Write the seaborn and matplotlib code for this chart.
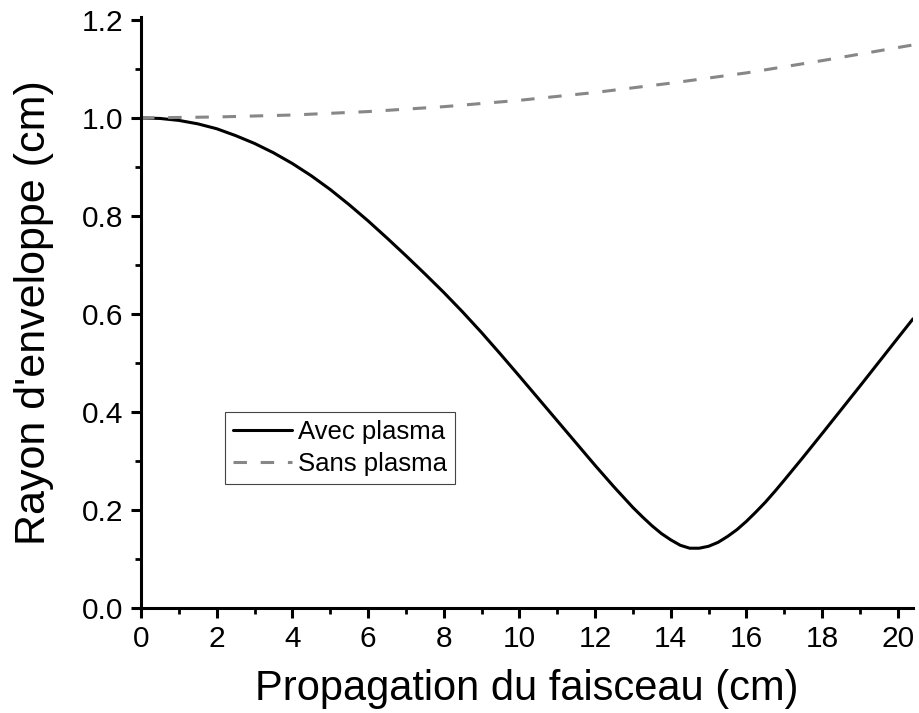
import numpy as np
import pandas as pd
import seaborn as sns
import matplotlib.pyplot as plt
from matplotlib.ticker import MultipleLocator

# valeurs
z_avec = [0, 0.5, 1, 1.5, 2, 2.5, 3, 3.5, 4, 4.5, 5, 5.5, 6, 6.5, 7, 7.5, 8, 8.5,
          9, 9.5, 10, 11, 12, 12.5, 13, 13.25, 13.5, 13.75, 14, 14.25, 14.5, 14.75,
          15, 15.25, 15.5, 15.75, 16, 16.25, 16.5, 16.75, 17, 17.5, 18, 19, 20, 20.4]
r_avec = [1.000, 0.999, 0.995, 0.988, 0.978, 0.964, 0.948, 0.929, 0.907, 0.882,
          0.854, 0.823, 0.790, 0.755, 0.719, 0.682, 0.644, 0.604,
          0.562, 0.518, 0.473, 0.382, 0.291, 0.247, 0.205, 0.186, 0.168, 0.152,
          0.139, 0.128, 0.122, 0.122,
          0.126, 0.134, 0.146, 0.160, 0.177, 0.196, 0.216, 0.238, 0.261, 0.308,
          0.356, 0.453, 0.551, 0.590]

z_sans = [0, 2, 4, 6, 8, 10, 12, 14, 16, 18, 20.4]
r_sans = [1.000, 1.002, 1.006, 1.013, 1.023, 1.036, 1.052, 1.071, 1.092, 1.117, 1.149]

df_avec = pd.DataFrame({"z": z_avec, "r": r_avec})
df_sans = pd.DataFrame({"z": z_sans, "r": r_sans})

sns.set_theme(style="ticks")
plt.rcParams["font.family"] = ["Liberation Sans", "DejaVu Sans"]
plt.rcParams["text.color"] = "black"
plt.rcParams["axes.labelcolor"] = "black"
plt.rcParams["xtick.color"] = "black"
plt.rcParams["ytick.color"] = "black"

fig = plt.figure(figsize=(9.19, 7.13), dpi=100)
ax = fig.add_axes([141/919, 1-608/713, (913-141)/919, (608-17)/713])

sns.lineplot(data=df_avec, x="z", y="r", ax=ax, color="black", linewidth=2.2,
             label="Avec plasma")
sns.lineplot(data=df_sans, x="z", y="r", ax=ax, color="#878787", linewidth=2.2,
             linestyle=(0, (4.4, 4.5)), label="Sans plasma")

ax.set_xlim(0, 20.4)
ax.set_ylim(0, 1.206)
ax.xaxis.set_major_locator(MultipleLocator(2))
ax.xaxis.set_minor_locator(MultipleLocator(1))
ax.yaxis.set_major_locator(MultipleLocator(0.2))
ax.yaxis.set_minor_locator(MultipleLocator(0.1))
ax.yaxis.set_major_formatter(plt.FormatStrFormatter("%.1f"))

for s in ["top", "right"]:
    ax.spines[s].set_visible(False)
for s in ["left", "bottom"]:
    ax.spines[s].set_linewidth(2.2)
    ax.spines[s].set_color("black")

ax.tick_params(which="major", length=7.5, width=2.2, labelsize=21.5, pad=5,
               color="black", labelcolor="black")
ax.tick_params(which="minor", length=4, width=2.0, color="black")

ax.set_xlabel("Propagation du faisceau (cm)", fontsize=30, labelpad=11)
ax.set_ylabel("Rayon d'enveloppe (cm)", fontsize=31, labelpad=20)

leg = ax.legend(loc="upper left", bbox_to_anchor=(0.1088, 0.3316), borderaxespad=0,
                fontsize=18.5, frameon=True, fancybox=False, framealpha=1,
                edgecolor="#444444", handlelength=2.3, handletextpad=0.25,
                labelspacing=0.33, borderpad=0.3)
leg.get_frame().set_linewidth(0.8)

fig.savefig("out.png", dpi=100)
